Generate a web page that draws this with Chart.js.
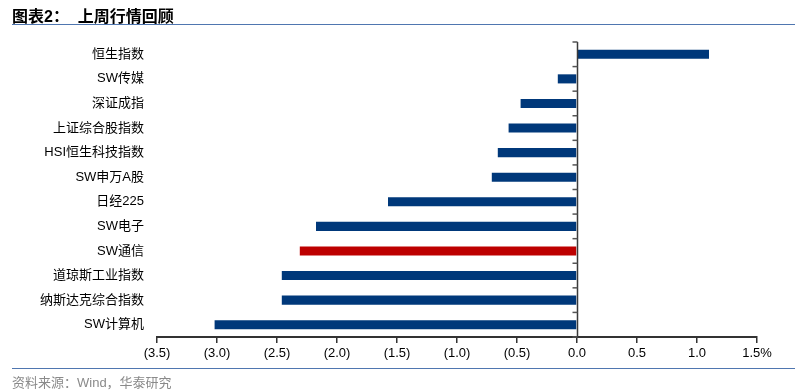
<!DOCTYPE html>
<html>
<head>
<meta charset="utf-8">
<script src="https://cdn.jsdelivr.net/npm/chart.js@4/dist/chart.umd.min.js"></script>
<style>
  html, body { margin: 0; padding: 0; background: #fff; }
  #wrap { position: relative; width: 805px; height: 392px; overflow: hidden; }
  #chart { position: absolute; left: 0; top: 0; }
  .title {
    position: absolute; left: 12px; top: 3px;
    font: bold 16px "Liberation Sans", "Noto Sans CJK SC", sans-serif; color: #000;
  }
  .rule { position: absolute; left: 12px; width: 783px; height: 0; border-top: 1.5px solid #4f76b0; }
  .source {
    position: absolute; left: 12px; top: 372px;
    font: 13px "Liberation Sans", "Noto Sans CJK SC", sans-serif; color: #8a8a8a;
  }
</style>
</head>
<body>
<div id="wrap">
  <canvas id="chart" width="805" height="392"></canvas>
  <div class="title">图表2：&nbsp;&nbsp;上周行情回顾</div>
  <div class="rule" style="top:24px"></div>
  <div class="rule" style="top:368px"></div>
  <div class="source">资料来源：Wind，华泰研究</div>
</div>
<script>
// 上周涨跌幅 (%)
const categories = ['恒生指数', 'SW传媒', '深证成指', '上证综合股指数', 'HSI恒生科技指数', 'SW申万A股',
    '日经225', 'SW电子', 'SW通信', '道琼斯工业指数', '纳斯达克综合指数', 'SW计算机'];
const weeklyChange = [1.10, -0.16, -0.47, -0.57, -0.66, -0.71, -1.575, -2.175, -2.31, -2.46, -2.46, -3.02];
const xTickLabels = ['(3.5)', '(3.0)', '(2.5)', '(2.0)', '(1.5)', '(1.0)', '(0.5)', '0.0', '0.5', '1.0', '1.5%'];
const highlightName = 'SW通信';

const NAVY = '#00387a';
const RED = '#bd0000';
const FONT = '"Liberation Sans", "Noto Sans CJK SC", sans-serif';

// garis nol + tick kecil di antara kategori
const zeroAxis = {
    id: 'zeroAxis',
    afterDatasetsDraw(chart) {
        const { ctx, chartArea, scales } = chart;
        const x0 = Math.round(scales.x.getPixelForValue(0)) + 0.5;
        const y = scales.y;
        const n = categories.length;
        ctx.save();
        ctx.strokeStyle = '#3a3a3a';
        ctx.lineWidth = 1.5;
        ctx.beginPath();
        ctx.moveTo(x0, chartArea.top);
        ctx.lineTo(x0, chartArea.bottom);
        ctx.stroke();
        ctx.strokeStyle = '#555';
        ctx.lineWidth = 1.5;
        for (let i = 0; i <= n; i++) {
            let yy;
            if (i === 0) yy = chartArea.top;
            else if (i === n) yy = chartArea.bottom;
            else yy = (y.getPixelForValue(i - 1) + y.getPixelForValue(i)) / 2;
            ctx.beginPath();
            ctx.moveTo(x0 - 5, yy);
            ctx.lineTo(x0, yy);
            ctx.stroke();
        }
        ctx.restore();
    }
};

new Chart(document.getElementById('chart').getContext('2d'), {
    type: 'bar',
    data: {
        labels: categories,
        datasets: [{
            data: weeklyChange,
            backgroundColor: c => categories[c.dataIndex] === highlightName ? RED : NAVY,
            barPercentage: 0.37,
            categoryPercentage: 1.0,
            borderWidth: 0
        }]
    },
    options: {
        indexAxis: 'y',
        responsive: false,
        animation: false,
        layout: { padding: { left: 0, right: 48, top: 42, bottom: 25 } },
        plugins: {
            legend: { display: false },
            tooltip: { enabled: false }
        },
        scales: {
            x: {
                min: -3.5,
                max: 1.5,
                afterFit: s => { s.height = 30; },
                ticks: {
                    stepSize: 0.5,
                    autoSkip: false,
                    maxRotation: 0,
                    padding: 3,
                    color: '#000',
                    font: { family: FONT, size: 13 },
                    callback: (v, i) => xTickLabels[i]
                },
                grid: { drawOnChartArea: false, drawTicks: true, tickLength: 6, color: '#333', lineWidth: 1.5 },
                border: { display: true, color: '#333', width: 2 }
            },
            y: {
                afterFit: s => { s.width = 157; },
                ticks: {
                    padding: 13,
                    color: '#000',
                    font: { family: FONT, size: 13 }
                },
                grid: { display: false, drawTicks: false },
                border: { display: false }
            }
        }
    },
    plugins: [zeroAxis]
});
</script>
</body>
</html>
